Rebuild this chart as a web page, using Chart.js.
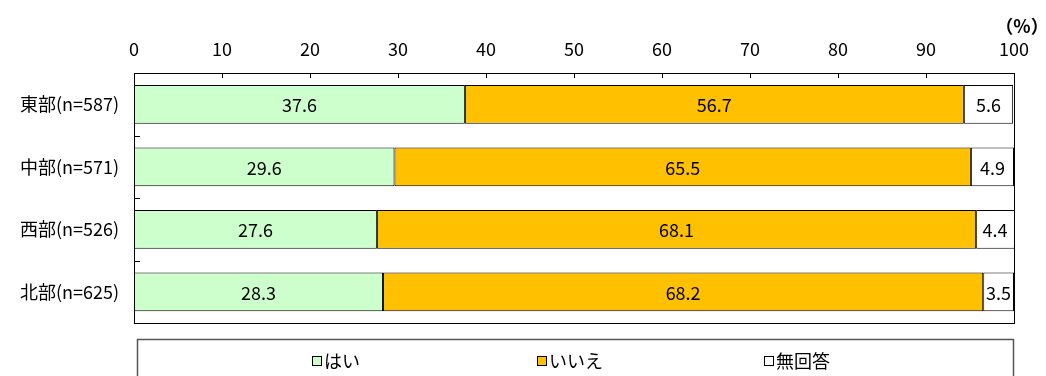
<!DOCTYPE html>
<html><head><meta charset="utf-8">
<script src="https://cdn.jsdelivr.net/npm/chart.js@4.4.1/dist/chart.umd.min.js"></script>
<style>html,body{margin:0;padding:0;background:#fff}#wrap{width:1046px;height:376px;position:relative}</style>
</head><body><div id="wrap"><canvas id="c" width="1046" height="376"></canvas></div>
<script>
const categories = ['東部(n=587)', '中部(n=571)', '西部(n=526)', '北部(n=625)'];
const seriesNames = ['はい', 'いいえ', '無回答'];
const yesValues = [37.6, 29.6, 27.6, 28.3];
const noValues = [56.7, 65.5, 68.1, 68.2];
const naValues = [5.6, 4.9, 4.4, 3.5];
const xTickValues = [0, 10, 20, 30, 40, 50, 60, 70, 80, 90, 100];
const unitLabel = '（%）';

const FONT = '"Noto Sans CJK JP", "Noto Sans", sans-serif';
const colors = ['#CCFFCC', '#FFC000', '#FFFFFF'];
const seriesValues = [yesValues, noValues, naValues];

const decor = {
  id: 'decor',
  afterDatasetsDraw(chart) {
    const ctx = chart.ctx;
    ctx.save();
    ctx.fillStyle = '#000';
    ctx.font = '18px ' + FONT;
    ctx.textAlign = 'center';
    ctx.textBaseline = 'middle';
    chart.data.datasets.forEach((ds, di) => {
      chart.getDatasetMeta(di).data.forEach((el, i) => {
        const p = el.getProps(['x', 'y', 'base'], true);
        const right = Math.min(p.x, chart.chartArea.right);
        ctx.fillText(ds.data[i].toFixed(1), (right + p.base) / 2, p.y + 1);
      });
    });
    ctx.restore();
  },
  afterDraw(chart) {
    const ctx = chart.ctx;
    const a = chart.chartArea;
    const xs = chart.scales.x, ys = chart.scales.y;
    ctx.save();
    ctx.strokeStyle = '#000';
    ctx.lineWidth = 1;
    ctx.strokeRect(Math.round(a.left) + 0.5, Math.round(a.top) + 0.5, Math.round(a.right - a.left), Math.round(a.bottom - a.top));
    // x tick marks (inward)
    ctx.beginPath();
    xTickValues.forEach(v => {
      const px = Math.round(xs.getPixelForValue(v)) + 0.5;
      ctx.moveTo(px, a.top);
      ctx.lineTo(px, a.top + 5);
    });
    // y tick marks between categories
    for (let i = 0; i < categories.length - 1; i++) {
      const py = Math.round((ys.getPixelForValue(i) + ys.getPixelForValue(i + 1)) / 2) + 0.5;
      ctx.moveTo(a.left, py);
      ctx.lineTo(a.left + 6, py);
    }
    ctx.stroke();
    // unit label
    ctx.fillStyle = '#000';
    ctx.font = 'bold 18px ' + FONT;
    ctx.textAlign = 'center';
    ctx.textBaseline = 'middle';
    ctx.fillText(unitLabel, 1022, 26);
    // legend box
    ctx.strokeStyle = '#555';
    ctx.lineWidth = 1.5;
    ctx.strokeRect(137.5, 339.5, 876, 50);
    ctx.lineWidth = 1;
    ctx.font = '18px ' + FONT;
    ctx.textAlign = 'left';
    const itemX = [312, 537, 764];
    chart.data.datasets.forEach((ds, i) => {
      const x = itemX[i], y = 361;
      ctx.fillStyle = ds.backgroundColor;
      ctx.fillRect(x + 0.5, y - 4.5, 9, 9);
      ctx.strokeStyle = '#000';
      ctx.strokeRect(x + 0.5, y - 4.5, 9, 9);
      ctx.fillStyle = '#000';
      ctx.fillText(ds.label, x + 12, y);
    });
    ctx.restore();
  }
};

new Chart(document.getElementById('c'), {
  type: 'bar',
  data: {
    labels: categories,
    datasets: seriesNames.map((name, i) => ({
      label: name,
      data: seriesValues[i],
      backgroundColor: colors[i],
      borderColor: '#000',
      borderWidth: 1,
      borderSkipped: false,
      barPercentage: 0.62,
      categoryPercentage: 1
    }))
  },
  options: {
    indexAxis: 'y',
    responsive: false,
    animation: false,
    devicePixelRatio: 1,
    layout: { padding: { left: 0, right: 32, top: 0, bottom: 53 } },
    plugins: { legend: { display: false }, tooltip: { enabled: false } },
    scales: {
      x: {
        position: 'top', stacked: true, min: 0, max: 100,
        afterFit(s) { s.height = 73; },
        afterBuildTicks(s) { s.ticks = xTickValues.map(v => ({ value: v })); },
        grid: { display: false, drawTicks: false },
        border: { display: false },
        ticks: { padding: 13, color: '#000', font: { family: FONT, size: 18 } }
      },
      y: {
        stacked: true,
        afterFit(s) { s.width = 134; },
        grid: { display: false, drawTicks: false },
        border: { display: false },
        ticks: { padding: 15, color: '#000', font: { family: FONT, size: 18 } }
      }
    }
  },
  plugins: [decor]
});
</script></body></html>
